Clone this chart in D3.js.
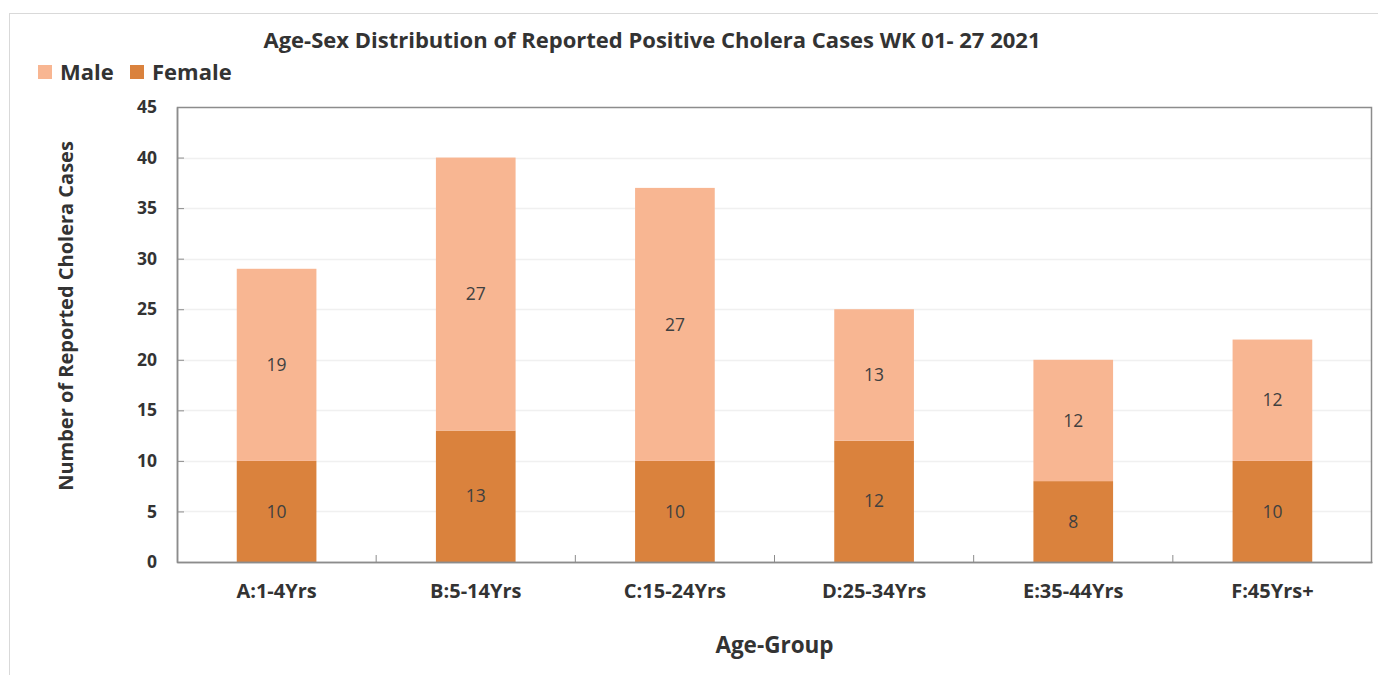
<!DOCTYPE html>
<html>
<head>
<meta charset="utf-8">
<script src="https://cdn.jsdelivr.net/npm/d3@7"></script>
<style>
body { margin: 0; background: #fff; }
text { font-family: "Open Sans", sans-serif; }
</style>
</head>
<body>
<svg width="1378" height="675"></svg>
<script>
var groups = ["A:1-4Yrs", "B:5-14Yrs", "C:15-24Yrs", "D:25-34Yrs", "E:35-44Yrs", "F:45Yrs+"];
var female = [10, 13, 10, 12, 8, 10];
var male = [19, 27, 27, 13, 12, 12];
var yTicks = [0, 5, 10, 15, 20, 25, 30, 35, 40, 45];

var maleColor = "#f8b692", femaleColor = "#da823d";

var svg = d3.select("svg"),
    margin = {top: 107, right: 6, bottom: 113, left: 177},
    width = +svg.attr("width") - margin.left - margin.right,
    height = +svg.attr("height") - margin.top - margin.bottom;

// outer chart frame
svg.append("rect")
    .attr("x", 9.5).attr("y", 13.5)
    .attr("width", 1400).attr("height", 700)
    .attr("fill", "none").attr("stroke", "#d9d9d9");

var g = svg.append("g").attr("transform", "translate(" + margin.left + "," + margin.top + ")");

var x = d3.scaleBand().domain(groups).range([0, width]);
var y = d3.scaleLinear().domain([0, 45]).range([height, 0]);
var barW = x.bandwidth() * 0.4;

// gridlines
g.selectAll(".grid").data(yTicks.slice(1, -1)).enter().append("line")
    .attr("x1", 0).attr("x2", width)
    .attr("y1", function(d) { return Math.round(y(d)) + 0.5; })
    .attr("y2", function(d) { return Math.round(y(d)) + 0.5; })
    .attr("stroke", "#f0f0f0").attr("stroke-width", 1.5);

var rows = groups.map(function(k, i) { return {group: k, female: female[i], male: male[i]}; });
var stack = d3.stack().keys(["female", "male"])(rows);
var colors = {female: femaleColor, male: maleColor};

var layer = g.selectAll(".layer").data(stack).enter().append("g")
    .attr("fill", function(d) { return colors[d.key]; });

layer.selectAll("rect").data(function(d) { return d; }).enter().append("rect")
    .attr("x", function(d) { return x(d.data.group) + (x.bandwidth() - barW) / 2; })
    .attr("width", barW)
    .attr("y", function(d) { return y(d[1]); })
    .attr("height", function(d) { return y(d[0]) - y(d[1]); });

layer.selectAll("text").data(function(d) { return d; }).enter().append("text")
    .attr("x", function(d) { return x(d.data.group) + x.bandwidth() / 2; })
    .attr("y", function(d) { return y((d[0] + d[1]) / 2); })
    .attr("dy", "0.35em")
    .attr("text-anchor", "middle")
    .attr("fill", "#404040")
    .style("font-size", "17.5px")
    .text(function(d) { return d[1] - d[0]; });

// plot border
g.append("rect")
    .attr("x", 0.5).attr("y", 0.5).attr("width", width - 1).attr("height", height)
    .attr("fill", "none").attr("stroke", "#8c8c8c").attr("stroke-width", 1.5);

// y axis
var yAxis = g.append("g")
    .call(d3.axisLeft(y).tickValues(yTicks).tickSizeInner(-7).tickSizeOuter(0).tickPadding(20));
yAxis.select(".domain").attr("stroke", "#8c8c8c").attr("stroke-width", 1.5);
yAxis.selectAll(".tick line").attr("stroke", "#8c8c8c");
yAxis.selectAll(".tick text")
    .attr("fill", "#333").style("font-size", "17.5px").style("font-weight", "bold");

// x axis, ticks between categories
var xAxis = g.append("g").attr("transform", "translate(0," + height + ")")
    .call(d3.axisBottom(x).tickSize(0).tickPadding(22));
xAxis.select(".domain").attr("stroke", "#8c8c8c").attr("stroke-width", 1.5);
xAxis.selectAll(".tick text")
    .attr("fill", "#333").style("font-size", "20px").style("font-weight", "bold");
g.selectAll(".xsep").data(groups.slice(1)).enter().append("line")
    .attr("x1", function(d) { return x(d); }).attr("x2", function(d) { return x(d); })
    .attr("y1", height).attr("y2", height - 7)
    .attr("stroke", "#8c8c8c");

// titles
svg.append("text")
    .attr("x", 652).attr("y", 48)
    .attr("text-anchor", "middle")
    .attr("fill", "#333")
    .style("font-size", "22px").style("font-weight", "bold")
    .text("Age-Sex Distribution of Reported Positive Cholera Cases WK 01- 27 2021");

svg.append("text")
    .attr("x", margin.left + width / 2).attr("y", 653)
    .attr("text-anchor", "middle")
    .attr("fill", "#333")
    .style("font-size", "22.5px").style("font-weight", "bold")
    .text("Age-Group");

svg.append("text")
    .attr("transform", "translate(73,316) rotate(-90)")
    .attr("text-anchor", "middle")
    .attr("fill", "#333")
    .style("font-size", "20px").style("font-weight", "bold")
    .text("Number of Reported Cholera Cases");

// legend
var legend = [{name: "Male", color: maleColor, x: 38}, {name: "Female", color: femaleColor, x: 130}];
var lg = svg.selectAll(".legend").data(legend).enter().append("g")
    .attr("transform", function(d) { return "translate(" + d.x + ",65)"; });
lg.append("rect").attr("width", 14).attr("height", 14).attr("fill", function(d) { return d.color; });
lg.append("text")
    .attr("x", 22).attr("y", 7).attr("dy", "0.35em")
    .attr("fill", "#333")
    .style("font-size", "22px").style("font-weight", "bold")
    .text(function(d) { return d.name; });
</script>
</body>
</html>
